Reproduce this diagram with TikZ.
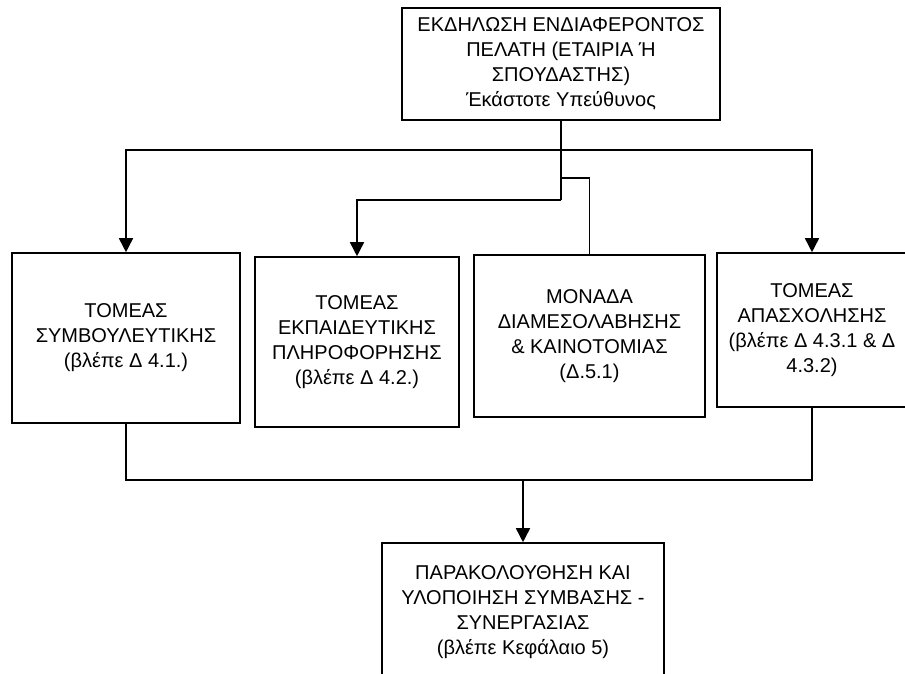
\documentclass[tikz,border=0pt]{standalone}
\usepackage{fontspec}
\setmainfont{Liberation Sans}
\usetikzlibrary{arrows.meta}

\begin{document}
\begin{tikzpicture}[x=1pt,y=-1pt,
	unitbox/.style={draw, line width=1.6pt, align=center, inner sep=0pt,
	                font=\fontsize{20}{25}\selectfont},
	flow/.style={line width=1.6pt},
	flowarrow/.style={flow, -{Triangle[width=14pt,length=14pt]}}]
\useasboundingbox (0,0) rectangle (905,673);

\node[unitbox,
      minimum width=318pt,
      minimum height=112pt
     ]
     (request) at (561,64) {ΕΚΔΗΛΩΣΗ ΕΝΔΙΑΦΕΡΟΝΤΟΣ\\ΠΕΛΑΤΗ (ΕΤΑΙΡΙΑ Ή\\ΣΠΟΥΔΑΣΤΗΣ)\\Έκάστοτε Υπεύθυνος};
\node[unitbox,
      minimum width=228pt,
      minimum height=170pt
     ]
     (counsel) at (126,338) {ΤΟΜΕΑΣ\\ΣΥΜΒΟΥΛΕΥΤΙΚΗΣ\\(βλέπε Δ 4.1.)};
\node[unitbox,
      minimum width=204pt,
      minimum height=170pt
     ]
     (inform) at (357,342) {ΤΟΜΕΑΣ\\ΕΚΠΑΙΔΕΥΤΙΚΗΣ\\ΠΛΗΡΟΦΟΡΗΣΗΣ\\(βλέπε Δ 4.2.)};
\node[unitbox,
      minimum width=231pt,
      minimum height=162pt
     ]
     (liaison) at (589.5,336) {ΜΟΝΑΔΑ\\ΔΙΑΜΕΣΟΛΑΒΗΣΗΣ\\\& ΚΑΙΝΟΤΟΜΙΑΣ\\(Δ.5.1)};
\node[unitbox,
      minimum width=190pt,
      minimum height=154pt
     ]
     (employ) at (812,330) {ΤΟΜΕΑΣ\\ΑΠΑΣΧΟΛΗΣΗΣ\\(βλέπε Δ 4.3.1 \& Δ\\4.3.2)};
\node[unitbox,
      minimum width=282pt,
      minimum height=138pt
     ]
     (followup) at (523,612) {ΠΑΡΑΚΟΛΟΥΘΗΣΗ ΚΑΙ\\ΥΛΟΠΟΙΗΣΗ ΣΥΜΒΑΣΗΣ -\\ΣΥΝΕΡΓΑΣΙΑΣ\\(βλέπε Κεφάλαιο 5)};

% Branches from the request
\coordinate (split) at (561,150);
\coordinate (fork) at (561,178);
\coordinate (branch) at (561,200);
\draw[flow] (request.south) -- (branch);
\draw[flowarrow] (split) -| (counsel.north);
\draw[flowarrow] (split) -| (employ.north);
\draw[flowarrow] (branch) -| (inform.north);
\draw[flow] (fork) -| (liaison.north);

% Merge into the follow-up
\coordinate (merge) at (523,480);
\draw[flow] (counsel.south) |- (merge);
\draw[flow] (employ.south) |- (merge);
\draw[flowarrow] (merge) -- (followup.north);

\end{tikzpicture}
\end{document}
